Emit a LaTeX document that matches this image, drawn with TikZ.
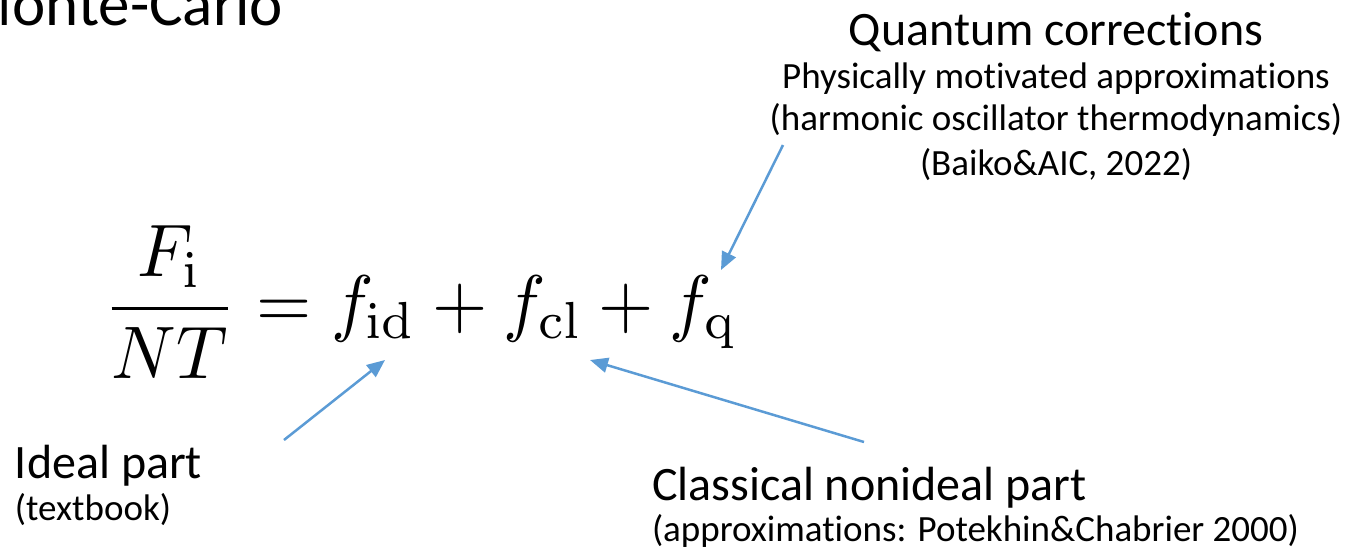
\documentclass[tikz,border=0pt]{standalone}
\usepackage[no-math]{fontspec}
\setmainfont{Carlito}[Ligatures={NoCommon}]
\usetikzlibrary{arrows.meta}
\definecolor{arrowblue}{RGB}{91,155,213}
\tikzset{
  lbl/.style={anchor=base west, inner sep=0pt, outer sep=0pt},
  big/.style={font=\fontsize{48}{56}\selectfont},
  small/.style={font=\fontsize{37}{44}\selectfont},
  pointer/.style={draw=arrowblue, line width=2.5pt, -{Triangle[length=18pt,width=15pt]}},
}
\begin{document}
\begin{tikzpicture}[x=1pt,y=-1pt]
\path[use as bounding box] (0,0) rectangle (1361,550);
\node[anchor=base east, inner sep=0pt, font=\fontsize{63}{70}\selectfont] (title) at (283,25) {Monte-Carlo};
\node[anchor=base, inner sep=0pt, big] (qc) at (1056,45) {Quantum corrections};
\node[anchor=base, inner sep=0pt, small] (qc1) at (1056,88) {Physically motivated approximations};
\node[anchor=base, inner sep=0pt, small] (qc2) at (1056,130) {(harmonic oscillator thermodynamics)};
\node[anchor=base, inner sep=0pt, small] (qc3) at (1056,175) {(Baiko\&AIC, 2022)};
\node[anchor=base west, inner sep=0pt] (eq) at (103,327)
  {\scalebox{7.1}[7.45]{$\displaystyle\frac{F_{\mathrm{i}}}{NT} = f_{\mathrm{id}} + f_{\mathrm{cl}} + f_{\mathrm{q}}$}};
\node[lbl, big] (ideal) at (15,478) {Ideal part};
\node[lbl, small] (ideal1) at (15,520) {(textbook)};
\node[lbl, big] (cl) at (652,500) {Classical nonideal part};
\node[lbl, small] (cl1) at (652,541) {(approximations: Potekhin\&Chabrier 2000)};
\coordinate (qs) at (783,145);
\coordinate (qe) at (721,270);
\coordinate (is) at (284,440);
\coordinate (ie) at (385,360);
\coordinate (cs) at (864,442);
\coordinate (ce) at (590,360);
\draw[pointer] (qs) -- (qe);
\draw[pointer] (is) -- (ie);
\draw[pointer] (cs) -- (ce);
\end{tikzpicture}
\end{document}
